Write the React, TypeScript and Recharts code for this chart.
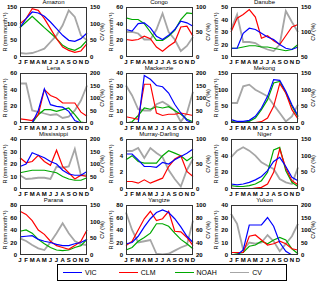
import React from 'react';
import { LineChart, Line, XAxis, YAxis } from 'recharts';

const months = ['J', 'F', 'M', 'A', 'M', 'J', 'J', 'A', 'S', 'O', 'N', 'D'];
const seriesNames = ['VIC', 'CLM', 'NOAH', 'CV'];

const amazonVIC = [88, 115, 135, 132, 122, 105, 85, 65, 50, 47, 55, 72];
const amazonCLM = [100, 115, 145, 140, 115, 85, 55, 30, 20, 14, 18, 40];
const amazonNOAH = [88, 105, 122, 105, 88, 72, 55, 35, 25, 20, 30, 50];
const amazonCV = [12, 10, 12, 18, 25, 45, 65, 95, 140, 120, 65, 50];

const congoVIC = [33, 31, 40, 41, 35, 25, 21, 26, 33, 43, 41, 37];
const congoCLM = [21, 20, 21, 25, 22, 12, 7, 13, 18, 36, 37, 25];
const congoNOAH = [47, 45, 45, 40, 30, 20, 20, 25, 32, 45, 53, 52];
const congoCV = [50, 50, 47, 35, 35, 55, 87, 50, 35, 12, 22, 40];

const danubeVIC = [17, 17, 29, 33, 32, 29, 26, 24, 20, 17, 16, 18];
const danubeCLM = [30, 41, 44, 48, 42, 25, 27, 23, 20, 27, 34, 36];
const danubeNOAH = [17, 17, 18, 19, 19, 18, 18, 17, 16, 15, 16, 20];
const danubeCV = [105, 135, 80, 80, 78, 70, 65, 62, 75, 142, 120, 100];

const lenaVIC = [0, 0, 0, 15, 41, 22, 20, 19, 14, 3, 0, 0];
const lenaCLM = [5, 4, 3, 10, 40, 33, 30, 24, 24, 24, 13, 8];
const lenaNOAH = [0, 0, 0, 10, 16, 16, 14, 16, 18, 10, 1, 0];
const lenaCV = [158, 158, 50, 45, 38, 32, 35, 20, 25, 50, 90, 150];

const mackenzieVIC = [0, 0, 0, 38, 35, 30, 29, 24, 15, 8, 2, 0];
const mackenzieCLM = [5, 4, 3, 31, 31, 8, 6, 7, 7, 8, 7, 6];
const mackenzieNOAH = [0, 1, 6, 12, 11, 13, 12, 13, 10, 7, 3, 1];
const mackenzieCV = [150, 110, 55, 50, 50, 75, 85, 70, 50, 5, 40, 125];

const mekongVIC = [10, 5, 5, 8, 20, 45, 80, 130, 128, 95, 55, 22];
const mekongCLM = [2, 1, 1, 1, 1, 4, 15, 50, 118, 90, 40, 12];
const mekongNOAH = [5, 2, 3, 5, 15, 40, 70, 120, 125, 90, 50, 18];
const mekongCV = [60, 60, 110, 115, 100, 90, 80, 55, 30, 5, 20, 55];

const mississippiVIC = [18, 20, 29, 27, 25, 22, 20, 15, 12, 11, 11, 14];
const mississippiCLM = [25, 21, 22, 27, 22, 19, 31, 18, 13, 8, 11, 10];
const mississippiNOAH = [13, 14, 15, 15, 15, 14, 13, 10, 8, 7, 7, 9];
const mississippiCV = [55, 40, 42, 45, 45, 40, 90, 85, 90, 160, 55, 55];

const murrayVIC = [4.2, 4.2, 3.5, 2.7, 2.7, 2.6, 3.2, 3.0, 3.5, 3.9, 4.3, 4.8];
const murrayCLM = [0.9, 0.9, 0.7, 1.1, 0.7, 1.0, 1.3, 2.7, 3.6, 4.0, 2.1, 1.5];
const murrayNOAH = [3.5, 4.0, 3.3, 3.1, 3.1, 3.1, 4.0, 4.6, 4.3, 4.0, 3.4, 3.9];
const murrayCV = [76, 76, 82, 62, 82, 72, 64, 38, 20, 5, 38, 60];

const nigerVIC = [6, 5, 6, 8, 11, 15, 22, 33, 38, 27, 14, 10];
const nigerCLM = [1, 0, 0, 0, 1, 2, 6, 20, 48, 25, 10, 5];
const nigerNOAH = [4, 3, 3, 4, 6, 10, 20, 47, 50, 22, 8, 3];
const nigerCV = [95, 115, 125, 115, 100, 80, 70, 60, 30, 20, 15, 65];

const paranaVIC = [29, 30, 31, 25, 22, 20, 17, 15, 15, 18, 20, 25];
const paranaCLM = [70, 65, 55, 40, 33, 22, 15, 12, 9, 15, 22, 40];
const paranaNOAH = [38, 40, 35, 25, 18, 12, 8, 7, 8, 12, 15, 25];
const paranaCV = [50, 42, 30, 20, 15, 38, 65, 95, 65, 42, 32, 30];

const yangtzeVIC = [18, 20, 30, 45, 58, 68, 72, 68, 58, 45, 30, 20];
const yangtzeCLM = [15, 22, 40, 58, 70, 55, 58, 70, 38, 37, 28, 15];
const yangtzeNOAH = [8, 12, 22, 28, 35, 50, 50, 46, 35, 25, 18, 10];
const yangtzeCV = [88, 60, 40, 42, 44, 22, 21, 22, 27, 32, 36, 75];

const yukonVIC = [0, 0, 4, 24, 24, 24, 30, 23, 10, 3, 0, 0];
const yukonCLM = [2, 2, 2, 15, 16, 12, 8, 9, 11, 9, 5, 4];
const yukonNOAH = [0, 1, 2, 7, 8, 11, 9, 12, 14, 12, 5, 1];
const yukonCV = [165, 125, 20, 50, 45, 50, 80, 55, 15, 45, 75, 125];

const basins = [
  { name: 'Amazon', s: [amazonVIC, amazonCLM, amazonNOAH, amazonCV], lt: [0, 50, 100, 150], rt: [0, 50, 100, 150] },
  { name: 'Congo', s: [congoVIC, congoCLM, congoNOAH, congoCV], lt: [0, 20, 40, 60], rt: [0, 50, 100] },
  { name: 'Danube', s: [danubeVIC, danubeCLM, danubeNOAH, danubeCV], lt: [10, 20, 30, 40, 50], rt: [50, 100, 150] },
  { name: 'Lena', s: [lenaVIC, lenaCLM, lenaNOAH, lenaCV], lt: [0, 20, 40, 60], rt: [0, 50, 100, 150, 200] },
  { name: 'Mackenzie', s: [mackenzieVIC, mackenzieCLM, mackenzieNOAH, mackenzieCV], lt: [0, 10, 20, 30, 40], rt: [0, 50, 100, 150, 200] },
  { name: 'Mekong', s: [mekongVIC, mekongCLM, mekongNOAH, mekongCV], lt: [0, 50, 100, 150], rt: [0, 50, 100, 150] },
  { name: 'Mississippi', s: [mississippiVIC, mississippiCLM, mississippiNOAH, mississippiCV], lt: [0, 10, 20, 30, 40], rt: [0, 50, 100, 150, 200] },
  { name: 'Murray-Darling', s: [murrayVIC, murrayCLM, murrayNOAH, murrayCV], lt: [0, 2, 4, 6], rt: [0, 50, 100] },
  { name: 'Niger', s: [nigerVIC, nigerCLM, nigerNOAH, nigerCV], lt: [0, 20, 40, 60], rt: [0, 50, 100, 150] },
  { name: 'Parana', s: [paranaVIC, paranaCLM, paranaNOAH, paranaCV], lt: [0, 20, 40, 60, 80], rt: [0, 50, 100, 150] },
  { name: 'Yangtze', s: [yangtzeVIC, yangtzeCLM, yangtzeNOAH, yangtzeCV], lt: [0, 20, 40, 60, 80], rt: [20, 40, 60, 80, 100] },
  { name: 'Yukon', s: [yukonVIC, yukonCLM, yukonNOAH, yukonCV], lt: [0, 10, 20, 30, 40], rt: [0, 50, 100, 150, 200] },
];

const COLORS: Record<string, string> = { VIC: '#0000ff', CLM: '#ff0000', NOAH: '#00a800', CV: '#a6a6a6' };
const FONT = "'Liberation Sans Narrow', 'Liberation Sans', Arial, sans-serif";
const colLeft = [20, 125.5, 231];
const rowTop = [7, 73, 139, 205];
const PW = 67;
const PH = 50;

function Panel({ b, left, top }: { b: any; left: number; top: number }) {
  const data = months.map((m, i) => ({
    i,
    VIC: b.s[0][i],
    CLM: b.s[1][i],
    NOAH: b.s[2][i],
    CV: b.s[3][i],
  }));
  const lt = b.lt;
  const rt = b.rt;
  const tickStyle = { fontSize: 6, fontWeight: 'bold', fill: '#000', fontFamily: FONT };
  return (
    <>
      <div
        style={{
          position: 'absolute', left: left, top: top - 8, width: PW, textAlign: 'center',
          fontSize: 6, fontFamily: FONT, lineHeight: '6px', color: '#000',
        }}
      >
        {b.name}
      </div>
      <div style={{ position: 'absolute', left: left - 20, top: top - 8 }}>
        <LineChart width={105} height={68} data={data} margin={{ top: 8, right: 0, bottom: 0, left: 0 }}>
          <XAxis
            dataKey="i" type="number" domain={[0, 11]} ticks={[0, 1, 2, 3, 4, 5, 6, 7, 8, 9, 10, 11]}
            interval={0} tickFormatter={(v: number) => months[v]} axisLine={false} tickLine={false}
            tickSize={2} tickMargin={1} height={10} tick={tickStyle}
          />
          <YAxis
            yAxisId="L" domain={[lt[0], lt[lt.length - 1]]} ticks={lt} allowDataOverflow width={20}
            axisLine={false} tickLine={false} tickSize={2} tickMargin={1} tick={tickStyle} interval={0}
          />
          <YAxis
            yAxisId="R" orientation="right" domain={[rt[0], rt[rt.length - 1]]} ticks={rt} allowDataOverflow width={18}
            axisLine={false} tickLine={false} tickSize={2} tickMargin={1} tick={tickStyle} interval={0}
          />
          <Line yAxisId="R" dataKey="CV" stroke={COLORS.CV} strokeWidth={1.8} dot={false} isAnimationActive={false} />
          <Line yAxisId="L" dataKey="NOAH" stroke={COLORS.NOAH} strokeWidth={1.2} dot={false} isAnimationActive={false} />
          <Line yAxisId="L" dataKey="CLM" stroke={COLORS.CLM} strokeWidth={1.2} dot={false} isAnimationActive={false} />
          <Line yAxisId="L" dataKey="VIC" stroke={COLORS.VIC} strokeWidth={1.2} dot={false} isAnimationActive={false} />
        </LineChart>
      </div>
      <div
        style={{
          position: 'absolute', left: left, top: top, width: PW, height: PH,
          border: '0.8px solid #333', boxSizing: 'border-box', pointerEvents: 'none',
        }}
      />
      <div
        style={{
          position: 'absolute', left: left - 15, top: top + PH / 2, transform: 'translate(-50%, -50%) rotate(-90deg)',
          fontSize: 5.5, fontFamily: FONT, whiteSpace: 'nowrap', color: '#000',
        }}
      >
        R (mm month⁻¹)
      </div>
      <div
        style={{
          position: 'absolute', left: left + PW + 15, top: top + PH / 2, transform: 'translate(-50%, -50%) rotate(-90deg)',
          fontSize: 5.5, fontFamily: FONT, whiteSpace: 'nowrap', color: '#000',
        }}
      >
        CV (%)
      </div>
    </>
  );
}

export default function App() {
  return (
    <div style={{ position: 'fixed', left: 0, top: 0, width: 320, height: 288, background: '#fff', overflow: 'hidden' }}>
      {basins.map((b, k) => (
        <Panel key={b.name} b={b} left={colLeft[k % 3]} top={rowTop[Math.floor(k / 3)]} />
      ))}
      <div
        style={{
          position: 'absolute', left: 57, top: 264, width: 230, height: 17, border: '0.8px solid #000',
          boxSizing: 'border-box', display: 'flex', alignItems: 'center', paddingLeft: 5,
        }}
      >
        {seriesNames.map((n) => (
          <div key={n} style={{ display: 'flex', alignItems: 'center', width: 59 }}>
            <div style={{ width: 19, height: 0, borderTop: `1.5px solid ${COLORS[n]}`, marginRight: 3 }} />
            <span style={{ fontSize: 7, fontFamily: FONT, color: '#000' }}>{n}</span>
          </div>
        ))}
      </div>
    </div>
  );
}
